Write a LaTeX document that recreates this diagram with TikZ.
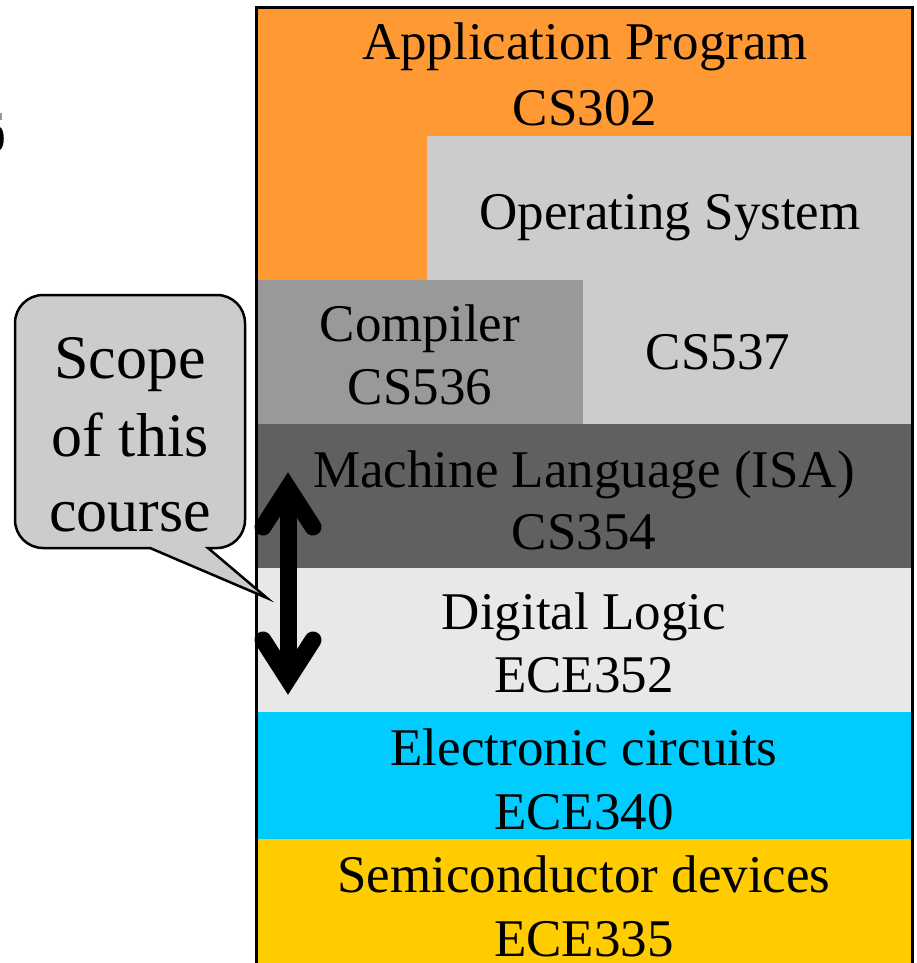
\documentclass[tikz,border=0pt]{standalone}
\usepackage{fontspec}
\setmainfont{Liberation Serif}
\definecolor{appcol}{HTML}{FF9933}
\definecolor{oscol}{HTML}{CCCCCC}
\definecolor{compcol}{HTML}{999999}
\definecolor{isacol}{HTML}{606060}
\definecolor{logiccol}{HTML}{E8E8E8}
\definecolor{circcol}{HTML}{00CCFF}
\definecolor{semicol}{HTML}{FFCC00}
\definecolor{calloutcol}{HTML}{CCCCCC}
\tikzset{
  layertext/.style={anchor=base, inner sep=0pt, font=\fontsize{53}{63}\selectfont},
  callouttext/.style={anchor=base, inner sep=0pt, font=\fontsize{62}{74}\selectfont},
  barb/.style={line width=17pt, line cap=round, line join=miter},
  shaft/.style={line width=17pt, line cap=butt},
}
\begin{document}
\begin{tikzpicture}[x=1pt, y=-1pt]
\useasboundingbox (0,0) rectangle (917,963);

% stacked layers
\fill[appcol]   (256,8)   rectangle (912,280);
\fill[oscol]    (427,136) rectangle (912,424);
\fill[compcol]  (256,280) rectangle (583,424);
\fill[isacol]   (256,424) rectangle (912,568);
\fill[logiccol] (256,568) rectangle (912,712);
\fill[circcol]  (256,712) rectangle (912,839);
\fill[semicol]  (256,839) rectangle (912,975);
\draw[line width=3pt] (256,8) rectangle (912,975);

% layer labels
\node[layertext] (app1) at (585,60)  {Application Program};
\node[layertext] (app2) at (585,125) {CS302};
\node[layertext] (os1)  at (670,229) {Operating System};
\node[layertext] (os2)  at (718,369) {CS537};
\node[layertext] (cc1)  at (420,341) {Compiler};
\node[layertext] (cc2)  at (420,404) {CS536};
\node[layertext] (isa1) at (584,487) {Machine Language (ISA)};
\node[layertext] (isa2) at (584,549) {CS354};
\node[layertext] (dl1)  at (584,629) {Digital Logic};
\node[layertext] (dl2)  at (584,692) {ECE352};
\node[layertext] (ec1)  at (584,765) {Electronic circuits};
\node[layertext] (ec2)  at (584,829) {ECE340};
\node[layertext] (sd1)  at (584,892) {Semiconductor devices};
\node[layertext] (sd2)  at (584,956) {ECE335};

% double arrow marking the course range
\coordinate (atop) at (288,488);
\coordinate (abot) at (288,679);
\draw[shaft] (atop) -- (abot);
\draw[barb] (263,527) -- (atop) -- (313,527);
\draw[barb] (263,640) -- (abot) -- (313,640);

% speech bubble
\coordinate (tip) at (267,598);
\draw[fill=calloutcol, line width=2.5pt]
  (208,548) -- (tip) -- (150,548) -- (43,548)
  arc[start angle=90, end angle=180, radius=28] -- (15,323)
  arc[start angle=180, end angle=270, radius=28] -- (217,295)
  arc[start angle=270, end angle=360, radius=28] -- (245,520)
  arc[start angle=0, end angle=90, radius=28] -- cycle;
\node[callouttext] (sc1) at (130,378) {Scope};
\node[callouttext] (sc2) at (130,456) {of this};
\node[callouttext] (sc3) at (130,531) {course};

% glyph fragment at the left edge
\fill[black] (0,127) .. controls (5,130) and (5,147) .. (0,150) -- cycle;
\fill[black!40] (0,113) rectangle (1.5,120);
\end{tikzpicture}
\end{document}
